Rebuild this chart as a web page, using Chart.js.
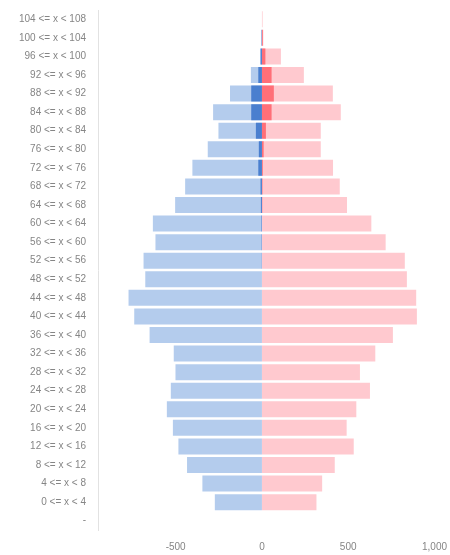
<!DOCTYPE html>
<html>
<head>
<meta charset="utf-8">
<script src="https://cdn.jsdelivr.net/npm/chart.js@4/dist/chart.umd.min.js"></script>
<style>
    html, body { margin: 0; padding: 0; background: #fff; }
    #wrap { width: 450px; height: 555px; }
</style>
</head>
<body>
<div id="wrap"><canvas id="chart-pyramid"></canvas></div>
<script>
const ageLabels = [
    '104 <= x < 108', '100 <= x < 104', '96 <= x < 100', '92 <= x < 96', '88 <= x < 92',
    '84 <= x < 88', '80 <= x < 84', '76 <= x < 80', '72 <= x < 76', '68 <= x < 72',
    '64 <= x < 68', '60 <= x < 64', '56 <= x < 60', '52 <= x < 56', '48 <= x < 52',
    '44 <= x < 48', '40 <= x < 44', '36 <= x < 40', '32 <= x < 36', '28 <= x < 32',
    '24 <= x < 28', '20 <= x < 24', '16 <= x < 20', '12 <= x < 16', '8 <= x < 12',
    '4 <= x < 8', '0 <= x < 4', '-',
];

const maleTotal = [
    0, -3, -8, -64, -185, -283, -252, -314, -403, -445,
    -503, -632, -617, -686, -676, -773, -740, -651, -511, -501,
    -528, -551, -516, -484, -434, -345, -273, 0,
];
const femaleTotal = [
    4, 8, 110, 243, 411, 457, 341, 341, 412, 451,
    493, 634, 717, 828, 840, 894, 898, 759, 657, 568,
    626, 547, 491, 532, 422, 349, 316, 0,
];
const maleDark = [
    0, -2, -8, -21, -62, -62, -35, -18, -21, -8,
    -6, -3, -2, -1, 0, 0, 0, 0, 0, 0,
    0, 0, 0, 0, 0, 0, 0, 0,
];
const femaleDark = [
    0, 5, 20, 56, 69, 56, 23, 10, 5, 3,
    2, 0, 0, 0, 0, 0, 0, 0, 0, 0,
    0, 0, 0, 0, 0, 0, 0, 0,
];
const xTicks = [-500, 0, 500, 1000];

const colors = {
    maleLight: '#b4cced',
    femaleLight: '#ffc9cf',
    maleDark: '#4a7fcf',
    femaleDark: '#ff6f78',
    text: '#858585',
    axis: '#e2e2e2',
};

function bar(data, color, order) {
    return {
        data,
        backgroundColor: color,
        borderWidth: 0,
        grouped: false,
        order,
        categoryPercentage: 1,
        barPercentage: 0.86,
    };
}

const font = { family: '"Liberation Sans", Arial, sans-serif', size: 10 };

new Chart(document.getElementById('chart-pyramid'), {
    type: 'bar',
    data: {
        labels: ageLabels,
        datasets: [
            bar(maleDark, colors.maleDark, 0),
            bar(femaleDark, colors.femaleDark, 0),
            bar(maleTotal, colors.maleLight, 1),
            bar(femaleTotal, colors.femaleLight, 1),
        ],
    },
    options: {
        indexAxis: 'y',
        responsive: true,
        maintainAspectRatio: false,
        animation: false,
        layout: { padding: { top: 4, right: 9, bottom: 0, left: 0 } },
        plugins: { legend: { display: false }, tooltip: { enabled: false } },
        scales: {
            x: {
                min: -950,
                max: 1000,
                grid: { display: false },
                border: { display: false },
                afterBuildTicks: (s) => { s.ticks = xTicks.map((v) => ({ value: v })); },
                afterFit: (s) => { s.height = 25; },
                ticks: {
                    color: colors.text,
                    font,
                    padding: 3,
                    maxRotation: 0,
                    callback: (v) => v.toLocaleString('en-US'),
                },
            },
            y: {
                grid: { display: false },
                border: { display: true, color: colors.axis },
                afterFit: (s) => { s.width = 98; },
                ticks: { color: colors.text, font, padding: 4, autoSkip: false },
            },
        },
    },
});
</script>
</body>
</html>
